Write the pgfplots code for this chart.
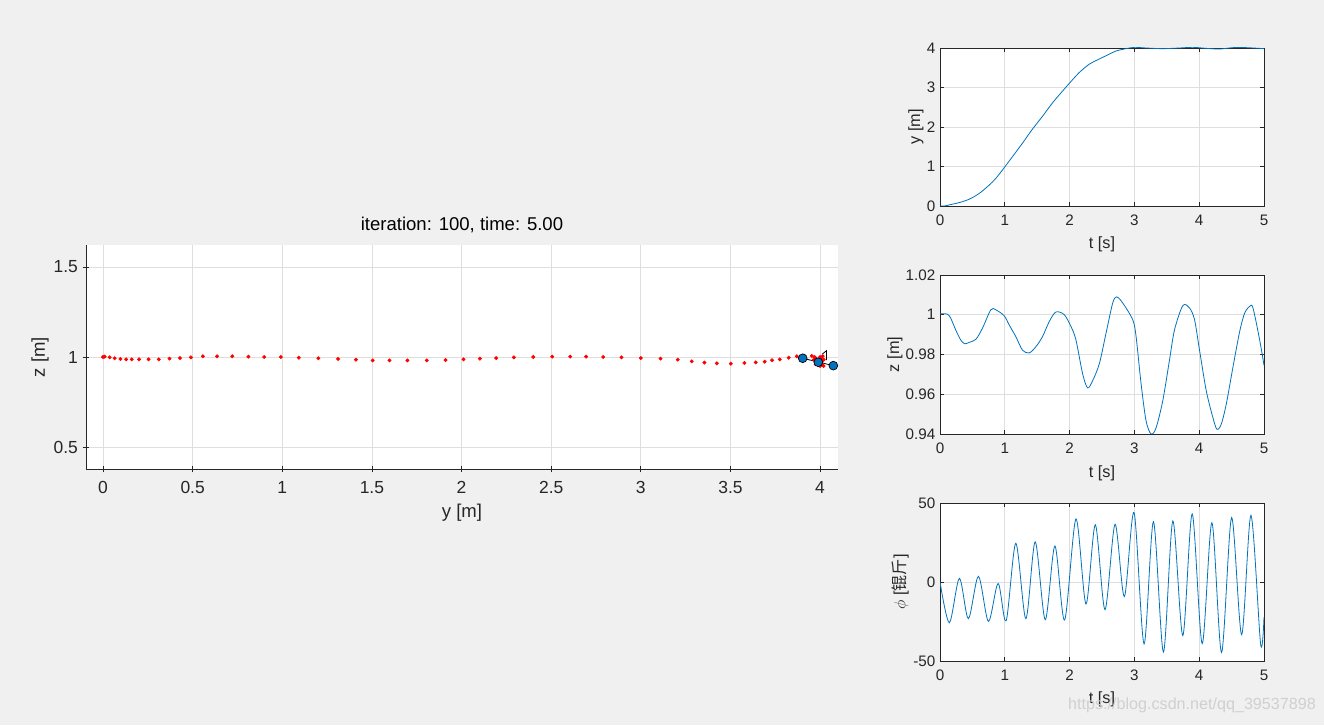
\documentclass[border=0pt]{standalone}
\usepackage{pgfplots}
\pgfplotsset{compat=1.18}
\usepackage{fontspec}
\setmainfont{Liberation Sans}
\newfontfamily\cjk{Noto Sans CJK SC}
\definecolor{bg}{RGB}{240,240,240}
\definecolor{ax}{RGB}{38,38,38}
\definecolor{gridc}{RGB}{222,222,222}
\definecolor{mblue}{RGB}{0,114,189}
\pgfplotsset{
  mstyle/.style={
    /pgf/number format/assume math mode=true,
    scale only axis, anchor=south west,
    axis background/.style={fill=white},
    axis line style={ax, line width=0.6pt},
    every tick/.style={ax, line width=0.6pt},
    grid=major, major grid style={gridc, line width=0.6pt},
    tick label style={text=ax},
    label style={text=ax},
  },
  sub/.style={mstyle, width=243pt, height=118.5pt, xmin=0, xmax=5, xtick={0,1,2,3,4,5},
    major tick length=3pt,
    tick label style={font=\fontsize{11.4}{13}\selectfont},
    xticklabel style={yshift=-3.5pt},
    label style={font=\fontsize{12.2}{14}\selectfont},
    xlabel={t [s]},
    xlabel style={at={(axis description cs:0.5,-0.245)}, anchor=center},
  },
}
\begin{document}
\begin{tikzpicture}
\fill[bg] (0,0) rectangle (993pt,543.75pt);
\useasboundingbox (0,0) rectangle (993pt,543.75pt);

% main trajectory axis
\begin{axis}[mstyle, at={(64.5pt,192pt)}, width=564pt, height=168pt,
  xmin=-0.095, xmax=4.1, ymin=0.378, ymax=1.622,
  axis lines=left, axis line style={-},
  xtick={0,0.5,1,1.5,2,2.5,3,3.5,4}, ytick={0.5,1,1.5},
  major tick length=5pt,
  tick label style={font=\fontsize{13.1}{15}\selectfont},
  xticklabel style={yshift=-3pt},
  label style={font=\fontsize{13.9}{16}\selectfont},
  xlabel={y [m]}, ylabel={z [m]},
  xlabel style={at={(axis description cs:0.5,-0.196)}, anchor=center},
  ylabel style={at={(axis description cs:-0.061,0.5)}, anchor=center},
  title={iteration: 100, time: 5.00},
  title style={at={(axis description cs:0.5,1.054)}, anchor=center, font=\fontsize{13.9}{16}\selectfont, text=black},
]
\addplot[only marks, mark=*, mark size=1.25pt, red, mark options={draw=none, fill=red}] coordinates {
(0,1.0)(0.009,1.002)(0.037,0.998)(0.065,0.993)(0.097,0.989)(0.129,0.987)(0.160,0.987)
(0.201,0.987)(0.254,0.987)(0.311,0.987)(0.371,0.991)(0.429,0.994)(0.490,0.998)(0.557,1.004)
(0.636,1.004)(0.721,1.004)(0.811,1.002)(0.899,1.0)(0.992,1.0)(1.092,0.996)(1.201,0.993)
(1.311,0.989)(1.411,0.985)(1.504,0.981)(1.598,0.981)(1.698,0.981)(1.806,0.981)(1.911,0.983)
(2.011,0.987)(2.102,0.991)(2.193,0.994)(2.292,0.998)(2.400,1.0)(2.506,1.002)(2.606,1.002)
(2.695,1.002)(2.790,1.0)(2.892,0.998)(3.0,0.994)(3.110,0.991)(3.206,0.985)(3.284,0.976)
(3.355,0.969)(3.424,0.965)(3.502,0.963)(3.578,0.967)(3.641,0.970)(3.691,0.974)(3.732,0.982)
(3.775,0.987)(3.825,0.996)(3.870,1.004)(3.913,1.006)(3.954,1.006)
(3.97,1.0)(3.98,0.99)(3.99,0.98)(4.0,0.97)(4.01,0.96)(4.0,0.95)(3.99,0.955)(4.02,0.985)
(4.0,1.0)(4.01,0.975)(3.985,0.965)(4.02,0.95)(3.965,0.985)(3.975,0.96)(4.005,0.99)(4.015,1.005)
};
\addplot[black, line width=0.6pt] coordinates {(3.903,0.993)(4.074,0.952)};
\addplot[black, line width=0.6pt] coordinates {(4.013,1.017)(4.036,1.035)(4.036,0.983)};
\addplot[only marks, mark=*, mark size=3.3pt, mark options={fill=mblue, draw=black, line width=0.5pt}] coordinates {(3.903,0.993)(3.99,0.971)(4.074,0.952)};
\end{axis}

% y(t)
\begin{axis}[sub, at={(705pt,389.25pt)}, ymin=0, ymax=4, ytick={0,1,2,3,4},
  ylabel={y [m]}, ylabel style={at={(axis description cs:-0.074,0.5)}, anchor=center}]
\addplot[mblue, line width=0.6pt, smooth] coordinates {
(0,0)(0.07,0.0)(0.139,0.026)(0.294,0.085)(0.448,0.17)(0.603,0.315)(0.758,0.528)(0.861,0.698)
(0.995,0.979)(1.119,1.251)(1.273,1.591)(1.428,1.949)(1.582,2.272)(1.737,2.613)(1.892,2.911)
(2.005,3.123)(2.149,3.379)(2.304,3.591)(2.433,3.702)(2.562,3.804)(2.716,3.923)(2.871,3.983)
(3.005,4.017)(3.18,4.0)(3.438,3.983)(3.696,4.0)(3.902,4.017)(4.108,3.991)(4.314,3.974)
(4.521,4.009)(4.727,4.009)(5,3.983)};
\end{axis}

% z(t)
\begin{axis}[sub, at={(705pt,218.25pt)}, height=119.25pt, ymin=0.94, ymax=1.02,
  ytick={0.94,0.96,0.98,1,1.02},
  ylabel={z [m]}, ylabel style={at={(axis description cs:-0.139,0.5)}, anchor=center}]
\addplot[mblue, line width=0.6pt, smooth] coordinates {
(0,1.0005)(0.113,1.0003)(0.165,0.9983)(0.242,0.9924)(0.320,0.9873)(0.381,0.9854)(0.448,0.9861)
(0.552,0.9876)(0.655,0.9932)(0.784,1.0025)(0.861,1.0025)(0.990,0.9995)(1.067,0.9949)
(1.170,0.9890)(1.273,0.9822)(1.376,0.9808)(1.479,0.9839)(1.582,0.9890)(1.686,0.9966)
(1.789,1.0014)(1.918,1.0)(2.021,0.9941)(2.098,0.9873)(2.201,0.9703)(2.278,0.9632)
(2.356,0.9669)(2.459,0.9754)(2.562,0.9907)(2.665,1.0059)(2.727,1.0090)(2.820,1.0059)
(2.974,0.9975)(3.026,0.9890)(3.103,0.9653)(3.180,0.9466)(3.258,0.9400)(3.335,0.9432)
(3.438,0.9568)(3.541,0.9771)(3.619,0.9924)(3.747,1.0046)(3.851,1.0034)(3.928,0.9975)
(4.005,0.9822)(4.108,0.9619)(4.211,0.9483)(4.273,0.9424)(4.340,0.9449)(4.418,0.9551)
(4.521,0.9737)(4.624,0.9915)(4.701,1.0008)(4.778,1.0042)(4.830,1.0034)(4.933,0.9873)(5.0,0.9746)};
\end{axis}

% phi(t)
\begin{axis}[sub, at={(705pt,48pt)}, ymin=-50, ymax=50, ytick={-50,0,50},
  ylabel={$\phi$ [{\cjk 锟斤}]}, ylabel style={at={(axis description cs:-0.123,0.5)}, anchor=center}]
\addplot[mblue, line width=0.6pt, smooth] coordinates {
(0,0)(0.144,-25.8)(0.299,2.3)(0.438,-23.2)(0.593,3.6)(0.747,-24.9)(0.897,-0.9)(1.021,-24.5)
(1.170,24.5)(1.325,-23.2)(1.469,25.4)(1.624,-23.9)(1.773,22.8)(1.923,-24.1)(2.098,39.9)
(2.253,-13.9)(2.397,36.2)(2.546,-17.5)(2.701,36.5)(2.845,-9.2)(2.995,43.9)(3.149,-39.2)
(3.294,38.2)(3.448,-44.3)(3.593,38.6)(3.747,-33.9)(3.892,43.1)(4.046,-39.0)(4.196,37.5)
(4.345,-44.6)(4.500,40.7)(4.655,-33.3)(4.799,42.2)(4.948,-39.4)(5.0,-22.2)};
\end{axis}

\node[font=\fontsize{12.1}{14}\selectfont, text={rgb,255:red,208;green,208;blue,208}] at (894pt,15pt) {https://blog.csdn.net/qq\_39537898};
\end{tikzpicture}
\end{document}
